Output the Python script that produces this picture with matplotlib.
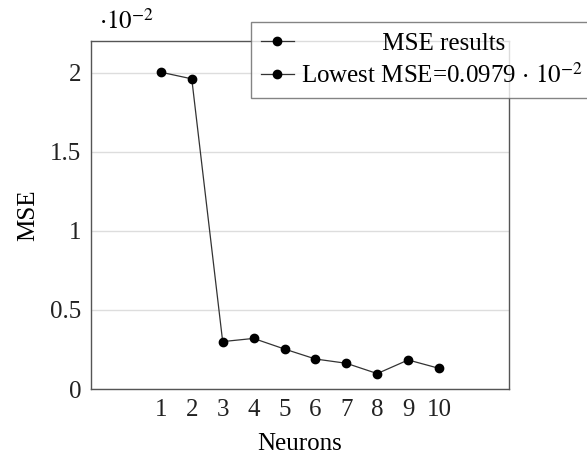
import matplotlib
matplotlib.use("Agg")
from matplotlib import pyplot as plt
from matplotlib.lines import Line2D

neurons = [1, 2, 3, 4, 5, 6, 7, 8, 9, 10]
mse_e2 = [2.002, 1.96, 0.30, 0.32, 0.253, 0.19, 0.163, 0.0979, 0.184, 0.131]
y_ticks = [0, 0.5, 1, 1.5, 2]
y_tick_labels = ["0", "0.5", "1", "1.5", "2"]
series_label = "MSE results"
lowest_label = r"Lowest MSE=0.0979$\,\cdot\,10^{-2}$"

plt.rcParams["font.family"] = ["Liberation Serif", "DejaVu Serif"]
plt.rcParams["mathtext.fontset"] = "stix"
plt.rcParams["font.size"] = 18

fig = plt.figure(figsize=(5.87, 4.54), dpi=100)
ax = fig.add_axes([0.155, 0.143, 0.712, 0.767])

ax.plot(neurons, mse_e2, color="#333333", linewidth=0.9,
        marker="o", markersize=6, markerfacecolor="black",
        markeredgecolor="black", zorder=3)

ax.set_xlim(-1.26, 12.26)
ax.set_ylim(0, 2.2)
ax.set_xticks(neurons)
ax.set_yticks(y_ticks)
ax.set_yticklabels(y_tick_labels)
ax.tick_params(length=0, pad=7, labelsize=18, colors="#222222")
ax.grid(axis="y", color="#dddddd", linewidth=1)
ax.set_axisbelow(True)
for s in ax.spines.values():
    s.set_color("#555555")
    s.set_linewidth(1)

ax.set_xlabel("Neurons", fontsize=18, labelpad=9)
ax.set_ylabel("MSE", fontsize=18, labelpad=8)
ax.text(0.02, 1.02, r"$\cdot 10^{-2}$", transform=ax.transAxes,
        fontsize=18, ha="left", va="bottom")

handles = [
    Line2D([], [], color="#333333", linewidth=0.9, marker="o",
           markersize=6, markerfacecolor="black", markeredgecolor="black"),
    Line2D([], [], color="#333333", linewidth=0.9, marker="o",
           markersize=6, markerfacecolor="black", markeredgecolor="black"),
]
leg = fig.legend(handles, ["             " + series_label, lowest_label],
                 loc="upper left", bbox_to_anchor=(251 / 587, 1 - 22 / 454),
                 frameon=True, fancybox=False, fontsize=18,
                 handlelength=1.3, handletextpad=0.3, borderpad=0.4,
                 labelspacing=0.35, borderaxespad=0)
leg.get_frame().set_edgecolor("#666666")
leg.get_frame().set_linewidth(1)

fig.savefig("out.png", dpi=100)
